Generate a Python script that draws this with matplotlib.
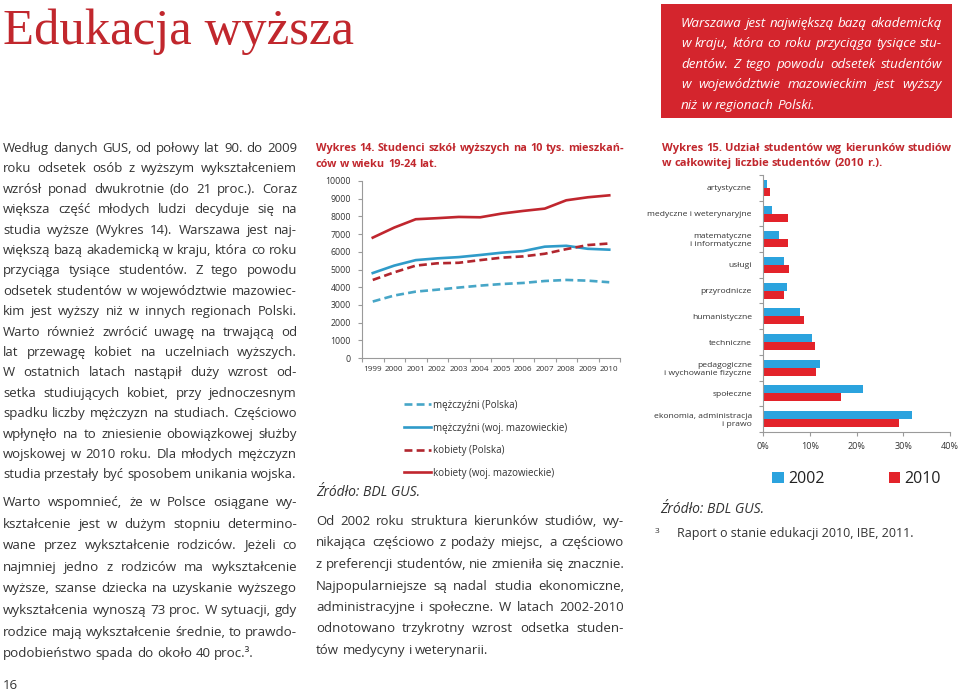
import math
import matplotlib
matplotlib.use("Agg")
import matplotlib.pyplot as plt
import numpy as np
from matplotlib.font_manager import FontProperties, fontManager, get_font
from matplotlib.backends.backend_agg import get_hinting_flag

# --- data -----------------------------------------------------------------
years = ["1999", "2000", "2001", "2002", "2003", "2004",
         "2005", "2006", "2007", "2008", "2009", "2010"]
men_pl = [3190, 3530, 3750, 3860, 3980, 4090, 4180, 4240, 4350, 4410, 4370, 4280]
men_maz = [4800, 5220, 5530, 5630, 5700, 5820, 5950, 6040, 6290, 6340, 6170, 6120]
women_pl = [4410, 4840, 5220, 5350, 5380, 5530, 5670, 5740, 5890, 6150, 6380, 6470]
women_maz = [6800, 7370, 7840, 7900, 7970, 7950, 8160, 8310, 8440, 8910, 9080, 9190]
line_labels = ["mężczyźni (Polska)", "mężczyźni (woj. mazowieckie)",
               "kobiety (Polska)", "kobiety (woj. mazowieckie)"]

fields = ["artystyczne", "medyczne i weterynaryjne",
          "matematyczne\ni informatyczne", "usługi", "przyrodnicze",
          "humanistyczne", "techniczne",
          "pedagogiczne\ni wychowanie fizyczne", "społeczne",
          "ekonomia, administracja\ni prawo"]
share_2002 = [0.9, 1.9, 3.5, 4.5, 5.1, 7.9, 10.5, 12.1, 21.4, 31.9]
share_2010 = [1.6, 5.4, 5.3, 5.5, 4.4, 8.8, 11.2, 11.4, 16.7, 29.1]
pct_ticks = [0, 10, 20, 30, 40]

title = "Edukacja wyższa"
box_lines = [
    "Warszawa jest największą bazą akademicką",
    "w kraju, która co roku przyciąga tysiące stu-",
    "dentów. Z tego powodu odsetek studentów",
    "w województwie mazowieckim jest wyższy",
    "niż w regionach Polski.",
]
para1 = [
    "Według danych GUS, od połowy lat 90. do 2009",
    "roku odsetek osób z wyższym wykształceniem",
    "wzrósł ponad dwukrotnie (do 21 proc.). Coraz",
    "większa część młodych ludzi decyduje się na",
    "studia wyższe (Wykres 14). Warszawa jest naj-",
    "większą bazą akademicką w kraju, która co roku",
    "przyciąga tysiące studentów. Z tego powodu",
    "odsetek studentów w województwie mazowiec-",
    "kim jest wyższy niż w innych regionach Polski.",
    "Warto również zwrócić uwagę na trwającą od",
    "lat przewagę kobiet na uczelniach wyższych.",
    "W ostatnich latach nastąpił duży wzrost od-",
    "setka studiujących kobiet, przy jednoczesnym",
    "spadku liczby mężczyzn na studiach. Częściowo",
    "wpłynęło na to zniesienie obowiązkowej służby",
    "wojskowej w 2010 roku. Dla młodych mężczyzn",
    "studia przestały być sposobem unikania wojska.",
]
para2 = [
    "Warto wspomnieć, że w Polsce osiągane wy-",
    "kształcenie jest w dużym stopniu determino-",
    "wane przez wykształcenie rodziców. Jeżeli co",
    "najmniej jedno z rodziców ma wykształcenie",
    "wyższe, szanse dziecka na uzyskanie wyższego",
    "wykształcenia wynoszą 73 proc. W sytuacji, gdy",
    "rodzice mają wykształcenie średnie, to prawdo-",
    "podobieństwo spada do około 40 proc.³.",
]
para3 = [
    "Od 2002 roku struktura kierunków studiów, wy-",
    "nikająca częściowo z podaży miejsc, a częściowo",
    "z preferencji studentów, nie zmieniła się znacznie.",
    "Najpopularniejsze są nadal studia ekonomiczne,",
    "administracyjne i społeczne. W latach 2002-2010",
    "odnotowano trzykrotny wzrost odsetka studen-",
    "tów medycyny i weterynarii.",
]
chart14_title = ["Wykres 14. Studenci szkół wyższych na 10 tys. mieszkań-",
                 "ców w wieku 19-24 lat."]
chart15_title = ["Wykres 15. Udział studentów wg kierunków studiów",
                 "w całkowitej liczbie studentów (2010 r.)."]
source = "Źródło: BDL GUS."
footnote = "Raport o stanie edukacji 2010, IBE, 2011."

# --- colours / fonts --------------------------------------------------------
RED_TITLE = "#c1272d"
RED_BOX = "#d4252d"
TXT = "#333333"
BLUE_BAR = "#2ba3de"
RED_BAR = "#e3232a"
FONT = ["Open Sans", "DejaVu Sans"]

W, H = 960, 691
DPI = 100
fig = plt.figure(figsize=(W / DPI, H / DPI), dpi=DPI)
renderer = fig.canvas.get_renderer()


def fx(x):
    return x / W


def fy(y):
    return 1 - y / H


def put(x, y, s, **kw):
    kw.setdefault("family", FONT)
    kw.setdefault("va", "baseline")
    return fig.text(fx(x), fy(y), s, **kw)


def width(s, **kw):
    t = put(0, 0, s, **kw)
    w = t.get_window_extent(renderer).width
    t.remove()
    return w


def baseline_shift(word, size, style, weight):
    # Agg snaps each text bitmap to whole pixels; predict the offset so
    # separately drawn words of a line share one baseline
    try:
        fp = FontProperties(family=FONT, size=size, style=style, weight=weight)
        font = get_font(fontManager._find_fonts_by_props(fp))
        font.clear()
        font.set_size(fp.get_size_in_points(), DPI)
        font.set_text(word, 0, flags=get_hinting_flag())
        _, h = font.get_width_height()
        desc = font.get_descent()
        return round(desc / 64) - (h // 64) + math.floor((h - desc) / 64)
    except Exception:
        return 0


def para(lines, x0, x1, y0, dy, size, color=TXT, style="normal",
         weight="normal", last_left=True):
    kw = dict(style=style, weight=weight)
    # shrink font if the widest line would not fit the column
    widest = max(width(ln, size=size, **kw) for ln in lines)
    if widest > (x1 - x0):
        size = size * (x1 - x0) / widest * 0.995
    space = width("a a", size=size, **kw) - width("aa", size=size, **kw)
    for i, ln in enumerate(lines):
        y = round(y0 + i * dy)
        words = ln.split(" ")
        last = (i == len(lines) - 1) and last_left
        objs = [put(x0, y - baseline_shift(w, size, style, weight), w,
                    size=size, color=color, **kw) for w in words]
        ws = [o.get_window_extent(renderer).width for o in objs]
        if last or len(words) == 1:
            sp = space
        else:
            sp = (x1 - x0 - sum(ws)) / (len(words) - 1)
        x = x0
        for o, w in zip(objs, ws):
            o.set_x(fx(x))
            x += w + sp


# --- page title and red box ---------------------------------------------------
put(3, 44, title, size=36.5, color=RED_TITLE, family=["Liberation Serif"])
fig.patches.append(plt.Rectangle((fx(661), fy(118)), fx(952) - fx(661),
                                 fy(4) - fy(118), transform=fig.transFigure,
                                 facecolor=RED_BOX, edgecolor="none"))
para(box_lines, 681, 942, 27, 20.4, 10, color="white", style="italic")

# --- text columns ------------------------------------------------------------
para(para1, 3, 297, 152, 20.4, 10)
para(para2, 3, 297, 506, 21.6, 10)
para(para3, 316, 624, 525, 21.5, 10)
put(3, 689, "16", size=9.5, color=TXT)

para(chart14_title, 316, 624, 151, 16, 9.5, color=RED_TITLE, weight="bold")
para(chart15_title, 662, 952, 151, 15, 9.5, color=RED_TITLE, weight="bold")
put(316, 496, source, size=10, style="italic", color=TXT)
put(660, 513, source, size=10, style="italic", color=TXT)
put(655, 533, "3", size=6, color=TXT)
put(677, 537, footnote, size=9, color=TXT)

# --- Wykres 14: line chart ---------------------------------------------------
ax1 = fig.add_axes([fx(362), fy(358), fx(620) - fx(362), fy(181) - fy(358)])
x = np.arange(len(years))
series = [(men_pl, "#47a6c7", (0, (3, 1.6))),
          (men_maz, "#2f9bc9", "-"),
          (women_pl, "#b1262e", (0, (3, 1.6))),
          (women_maz, "#c0262e", "-")]
handles = []
for vals, col, ls in series:
    h, = ax1.plot(x, vals, color=col, linestyle=ls, linewidth=1.9)
    handles.append(h)
ax1.set_xlim(-0.5, len(years) - 0.5)
ax1.set_ylim(0, 10000)
ax1.set_yticks(range(0, 10001, 1000))
ax1.set_xticks(np.arange(-0.5, len(years), 1))
ax1.set_xticklabels([])
ax1.set_xticks(x, minor=True)
ax1.set_xticklabels(years, minor=True)
ax1.tick_params(axis="x", which="minor", length=0, pad=6)
ax1.tick_params(axis="x", which="major", length=3, color="#9a9a9a")
ax1.tick_params(axis="y", length=3, color="#9a9a9a", pad=5)
for lab in ax1.get_xticklabels(minor=True):
    lab.set_fontsize(5.9)
    lab.set_family(FONT)
    lab.set_color("#333333")
for lab in ax1.get_yticklabels():
    lab.set_fontsize(6.3)
    lab.set_family(FONT)
    lab.set_color("#333333")
for s in ["top", "right"]:
    ax1.spines[s].set_visible(False)
for s in ["left", "bottom"]:
    ax1.spines[s].set_color("#9a9a9a")
    ax1.spines[s].set_linewidth(0.8)

fig.legend(handles, line_labels, loc="upper left",
           bbox_to_anchor=(fx(400), fy(396)), frameon=False,
           prop={"family": FONT, "size": 7}, handlelength=2.8,
           labelspacing=1.2, handletextpad=0.2, borderaxespad=0,
           labelcolor="#333333")

# --- Wykres 15: horizontal bar chart -------------------------------------------
ax2 = fig.add_axes([fx(763), fy(432), fx(950) - fx(763), fy(175) - fy(432)])
pos = np.arange(len(fields))
bh = 0.31
b1 = ax2.barh(pos - bh / 2, share_2002, height=bh, color=BLUE_BAR, label="2002")
b2 = ax2.barh(pos + bh / 2, share_2010, height=bh, color=RED_BAR, label="2010")
ax2.set_ylim(len(fields) - 0.5, -0.5)
ax2.set_xlim(0, 40)
ax2.set_xticks(pct_ticks)
ax2.set_xticklabels([f"{v}%" for v in pct_ticks])
ax2.set_yticks(np.arange(-0.5, len(fields), 1))
ax2.set_yticklabels([])
ax2.set_yticks(pos, minor=True)
ax2.set_yticklabels(fields, minor=True, multialignment="right")
ax2.tick_params(axis="y", which="minor", length=0, pad=8)
ax2.tick_params(axis="y", which="major", length=3, color="#9a9a9a")
ax2.tick_params(axis="x", length=3, color="#9a9a9a", pad=4)
for lab in ax2.get_yticklabels(minor=True):
    lab.set_fontsize(6.1)
    lab.set_family(FONT)
    lab.set_color("#333333")
for lab in ax2.get_xticklabels():
    lab.set_fontsize(6.5)
    lab.set_family(FONT)
    lab.set_color("#333333")
for s in ["top", "right"]:
    ax2.spines[s].set_visible(False)
for s in ["left", "bottom"]:
    ax2.spines[s].set_color("#9a9a9a")
    ax2.spines[s].set_linewidth(0.8)

fig.legend([b1, b2], ["2002", "2010"], loc="center left",
           bbox_to_anchor=(fx(766), fy(479)), ncol=2, frameon=False,
           prop={"family": FONT, "size": 11.5}, handlelength=0.7,
           handleheight=0.7, handletextpad=0.3, columnspacing=4.0,
           borderaxespad=0, labelcolor="#222222")

fig.savefig("out.png", dpi=DPI)
